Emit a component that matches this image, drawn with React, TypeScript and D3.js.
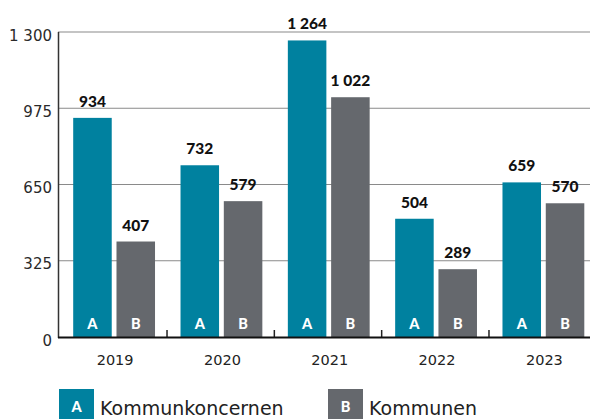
import React from "react";
import * as d3 from "d3";

const years = ["2019", "2020", "2021", "2022", "2023"];
const kommunkoncernen = [934, 732, 1264, 504, 659];
const kommunen = [407, 579, 1022, 289, 570];
const yTicks = [0, 325, 650, 975, 1300];
const seriesNames = ["Kommunkoncernen", "Kommunen"];
const seriesKeys = ["A", "B"];
const colors = ["#00819f", "#65686d"];

const W = 590;
const H = 419;
const font = "'DejaVu Sans', sans-serif";
const boldFont = "Lato, 'DejaVu Sans', sans-serif";

const fmtSp = (v: number) => {
  const s = String(v);
  return s.length > 3 ? s.slice(0, s.length - 3) + " " + s.slice(-3) : s;
};

export default function App() {
  const x = d3.scaleBand<string>().domain(years).range([59.7, 596.3]).paddingInner(0).paddingOuter(0);
  const y = d3.scaleLinear().domain([0, 1300]).range([337, 32]);
  const inner = d3.scaleBand<string>().domain(seriesKeys).range([13.5, x.bandwidth() - 12]).paddingInner(0.11);
  const series = [kommunkoncernen, kommunen];

  return (
    <svg width={W} height={H} style={{ display: "block", position: "absolute", left: 0, top: 0 }}>
      <rect x={0} y={0} width={W} height={H} fill="#fff" />
      {yTicks.map((t) => (
        <g key={t}>
          {t > 0 && <line x1={58} x2={W} y1={y(t)} y2={y(t)} stroke="#8a8a8a" strokeWidth={1.2} />}
          <text x={52} y={y(t) + 8.5} textAnchor="end" fontFamily={font} fontSize={15} fill="#2a2a2a">
            {fmtSp(t)}
          </text>
        </g>
      ))}
      {years.map((yr, i) => (
        <g key={yr} transform={`translate(${x(yr)},0)`}>
          {series.map((s, j) => {
            const bx = inner(seriesKeys[j])!;
            const bw = inner.bandwidth();
            return (
              <g key={j}>
                <rect x={bx} y={y(s[i])} width={bw} height={y(0) - y(s[i])} fill={colors[j]} />
                <text x={bx + bw / 2} y={y(s[i]) - 11} textAnchor="middle" fontFamily={boldFont} fontWeight={900} fontSize={15.5} fill="#111">
                  {fmtSp(s[i])}
                </text>
                <text x={bx + bw / 2} y={329} textAnchor="middle" fontFamily={boldFont} fontWeight={900} fontSize={14.5} fill="#fff">
                  {seriesKeys[j]}
                </text>
              </g>
            );
          })}
          <text x={(inner("A")! + inner("B")! + inner.bandwidth()) / 2 + 1} y={365} textAnchor="middle" fontFamily={font} fontSize={14.5} fill="#222">
            {yr}
          </text>
          {i > 0 && <line x1={0} x2={0} y1={330} y2={337} stroke="#222" strokeWidth={1.5} />}
        </g>
      ))}
      <line x1={58.5} x2={58.5} y1={32} y2={338} stroke="#333" strokeWidth={1.5} />
      <line x1={58} x2={W} y1={337.5} y2={337.5} stroke="#111" strokeWidth={1.8} />
      {seriesNames.map((n, j) => {
        const lx = j === 0 ? 59 : 328;
        return (
          <g key={n}>
            <rect x={lx} y={389} width={35} height={35} fill={colors[j]} />
            <text x={lx + 17.5} y={412} textAnchor="middle" fontFamily={boldFont} fontWeight={900} fontSize={14.5} fill="#fff">
              {seriesKeys[j]}
            </text>
            <text x={lx + 41} y={415} fontFamily={font} fontSize={19} fill="#222">
              {n}
            </text>
          </g>
        );
      })}
    </svg>
  );
}
